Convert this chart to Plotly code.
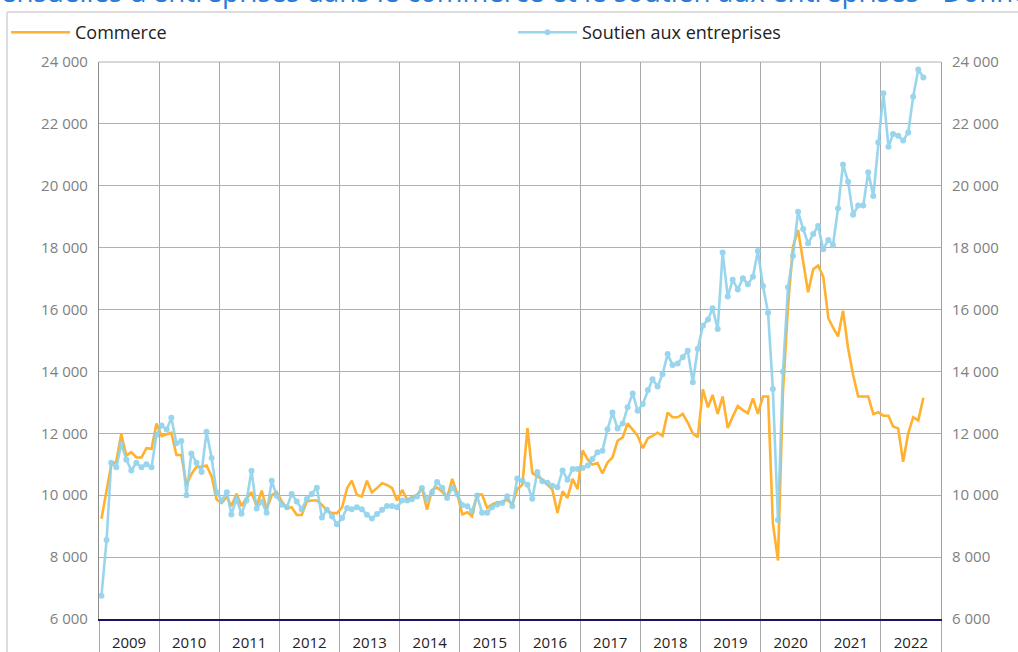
import pandas as pd
import plotly.graph_objects as go

# Monthly values, Jan 2009 - Sep 2022
commerce = [
    9240, 10130, 10980, 11090, 11970, 11280, 11390, 11220, 11220, 11520, 11500, 12320,   # 2009
    11910, 11970, 12020, 11300, 11300, 10340, 10680, 10920, 10920, 10960, 10610, 9860,   # 2010
    9750, 9950, 9650, 10050, 9650, 9900, 10100, 9650, 10150, 9550, 10000, 10100,         # 2011
    9800, 9580, 9610, 9360, 9360, 9800, 9830, 9830, 9690, 9500, 9420, 9420,              # 2012
    9610, 10230, 10470, 10010, 9960, 10470, 10090, 10230, 10390, 10330, 10230, 9830,     # 2013
    10170, 9850, 9940, 10010, 10230, 9530, 10170, 10250, 10110, 9935, 10530, 10050,      # 2014
    9380, 9450, 9320, 10020, 10020, 9590, 9700, 9775, 9775, 9860, 9700, 10200,           # 2015
    10340, 12170, 10720, 10610, 10510, 10340, 10180, 9430, 10130, 9915, 10530, 10200,    # 2016
    11450, 11150, 10990, 11040, 10700, 11060, 11220, 11760, 11870, 12320, 12130, 11920,  # 2017
    11520, 11840, 11920, 12020, 11920, 12670, 12520, 12520, 12630, 12350, 12000, 11870,  # 2018
    13420, 12840, 13240, 12630, 13190, 12170, 12540, 12880, 12750, 12650, 13130, 12630,  # 2019
    13190, 13190, 9100, 7890, 13300, 16100, 18030, 18570, 17550, 16560, 17300, 17420,    # 2020
    17060, 15720, 15420, 15130, 15960, 14750, 13890, 13190, 13190, 13190, 12620, 12680,  # 2021
    12570, 12570, 12220, 12160, 11080, 12000, 12520, 12420, 13150,                       # 2022
]
soutien = [
    6750, 8550, 11050, 10900, 11650, 11150, 10800, 11050, 10900, 11000, 10900, 11950,    # 2009
    12250, 12120, 12500, 11680, 11750, 10000, 11350, 11050, 10750, 12050, 11200, 10100,  # 2010
    9830, 10100, 9380, 9880, 9400, 9830, 10790, 9570, 9790, 9430, 10470, 9980,           # 2011
    9690, 9610, 10040, 9800, 9550, 9880, 10040, 10240, 9280, 9530, 9310, 9060,           # 2012
    9260, 9590, 9550, 9610, 9550, 9370, 9250, 9390, 9530, 9650, 9650, 9610,             # 2013
    9830, 9830, 9870, 9960, 10230, 9870, 10090, 10430, 10240, 9910, 10240, 10040,        # 2014
    9680, 9645, 9480, 9990, 9430, 9430, 9610, 9700, 9750, 9970, 9645, 10540,             # 2015
    10470, 10340, 9890, 10750, 10450, 10400, 10310, 10260, 10800, 10500, 10850, 10850,   # 2016
    10880, 10960, 11170, 11390, 11440, 12130, 12670, 12160, 12320, 12840, 13290, 12730,  # 2017
    12950, 13400, 13750, 13510, 13910, 14560, 14210, 14260, 14460, 14670, 13650, 14730,  # 2018
    15480, 15680, 16040, 15370, 17840, 16420, 16960, 16650, 17010, 16820, 17060, 17890,  # 2019
    16760, 15900, 13430, 9200, 13990, 16720, 17730, 19160, 18600, 18140, 18440, 18700,   # 2020
    17950, 18250, 18090, 19270, 20690, 20130, 19060, 19360, 19360, 20440, 19670, 21400,  # 2021
    22990, 21260, 21670, 21620, 21460, 21720, 22880, 23760, 23500,                       # 2022
]
start_month = "2009-01-01"
series_names = ["Commerce", "Soutien aux entreprises"]
title_text = "Créations mensuelles d'entreprises dans le commerce et le soutien aux entreprises - Données brutes"
y_ticks = [6000, 8000, 10000, 12000, 14000, 16000, 18000, 20000, 22000, 24000]

months = pd.date_range(start_month, periods=len(commerce), freq="MS") + pd.Timedelta(days=15)

W, H = 1018, 652
L, R, T, B = 99, 941, 62, 619          # plot area in screen pixels
def px(xp):
    return (xp - L) / (R - L)
def py(yp):
    return (B - yp) / (B - T)

ORANGE = "#FFB12F"
BLUE = "#8FD2EC"
FONT = "Open Sans"
legend_style = dict(orientation="h", xanchor="left", yanchor="top",
                    font=dict(family=FONT, size=18, color="#222"),
                    itemwidth=59, bgcolor="rgba(0,0,0,0)", borderwidth=0)

fig = go.Figure()
fig.add_trace(go.Scatter(x=months, y=commerce, name=series_names[0], mode="lines",
                         line=dict(color=ORANGE, width=2.6), legend="legend"))
fig.add_trace(go.Scatter(x=months, y=soutien, name=series_names[1], mode="lines+markers",
                         line=dict(color=BLUE, width=2.6), marker=dict(color=BLUE, size=6),
                         opacity=0.9, legend="legend2"))
# invisible trace to anchor right axis
fig.add_trace(go.Scatter(x=[months[0]], y=[y_ticks[0]], yaxis="y2", mode="markers",
                         marker=dict(opacity=0), showlegend=False, hoverinfo="skip"))

fig.update_layout(
    width=W, height=H,
    margin=dict(l=L, r=W - R, t=T, b=H - B, autoexpand=False),
    paper_bgcolor="white", plot_bgcolor="white",
    separators=", ",
    font=dict(family=FONT, size=15, color="#333"),
    showlegend=True,
    legend=dict(x=px(6), y=py(14), **legend_style),
    legend2=dict(x=px(513), y=py(14), **legend_style),
    xaxis=dict(type="date", range=["2009-01-01", "2023-01-01"],
               tick0="2009-01-01", dtick="M12", tickformat="%Y", ticklabelmode="period",
               showgrid=True, gridcolor="#a8a8a8", gridwidth=1,
               ticks="outside", ticklen=33, tickcolor="#a8a8a8", tickwidth=1,
               ticklabelstandoff=-24,
               showline=True, linecolor="#1b1464", linewidth=1.5,
               tickfont=dict(family=FONT, size=15, color="#222"),
               zeroline=False),
    yaxis=dict(range=[6000, 24000], tickvals=y_ticks, tickformat=",d",
               showgrid=True, gridcolor="#b0b0b0", gridwidth=1,
               showline=True, linecolor="#8a8a8a", linewidth=1.2,
               ticklabelstandoff=7,
               tickfont=dict(family=FONT, size=15, color="#808080"),
               zeroline=False),
    yaxis2=dict(range=[6000, 24000], tickvals=y_ticks, tickformat=",d",
                overlaying="y", side="right", showgrid=False,
                showline=True, linecolor="#a0a0a0", linewidth=1,
                ticklabelstandoff=7,
                tickfont=dict(family=FONT, size=15, color="#808080"),
                zeroline=False),
    shapes=[
        dict(type="line", xref="paper", yref="paper", x0=px(7), x1=px(7), y0=py(12), y1=py(652),
             line=dict(color="#dddddd", width=2)),
        dict(type="line", xref="paper", yref="paper", x0=px(7), x1=px(1018), y0=py(12), y1=py(12),
             line=dict(color="#dddddd", width=2)),
        dict(type="line", xref="paper", yref="paper", x0=0, x1=1, y0=1, y1=1,
             line=dict(color="#b0b0b0", width=1)),
    ],
    annotations=[
        dict(text=title_text, xref="paper", yref="paper", x=px(-158), y=py(12),
             xanchor="left", yanchor="bottom", showarrow=False,
             font=dict(family=FONT, size=27.8, color="#2a7bd6")),
    ],
)

fig.write_html("out.html",
               config={"displayModeBar": False},
               post_script="document.body.style.margin='0';document.body.style.overflow='hidden';")
